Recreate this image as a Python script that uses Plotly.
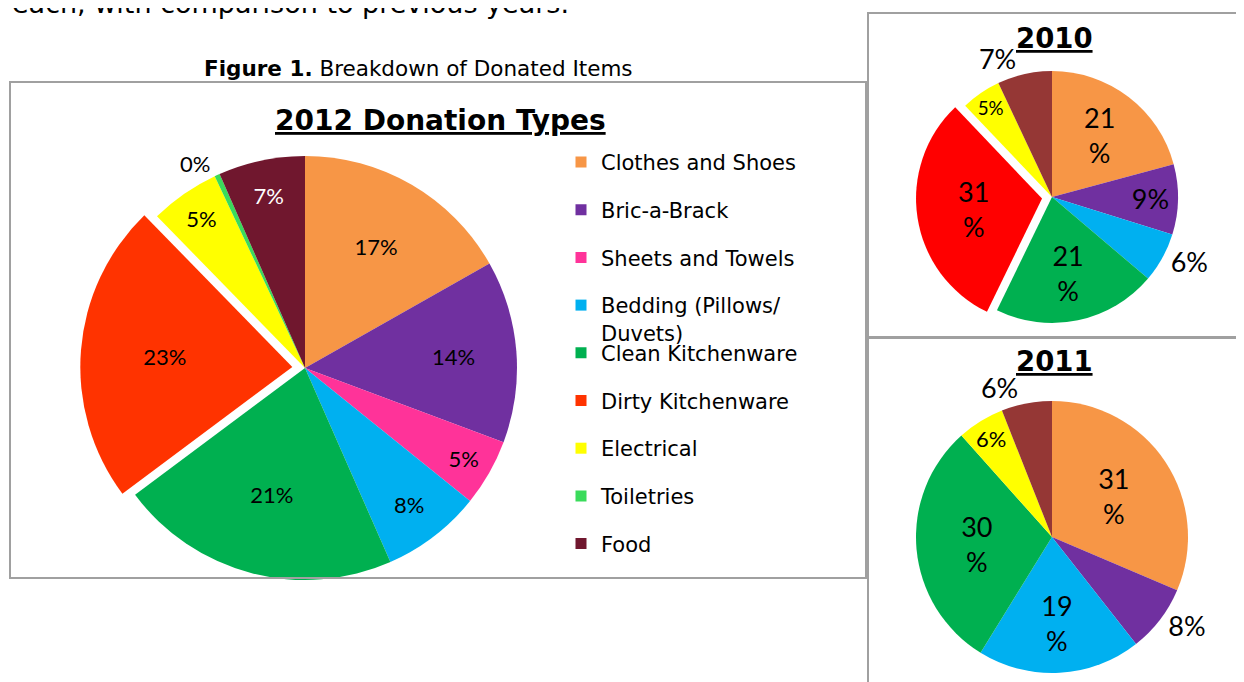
import plotly.graph_objects as go

W, H = 1244, 682
OFF = 8  # page body margin in the browser

# ---------------- data ----------------
categories = ["Clothes and Shoes", "Bric-a-Brack", "Sheets and Towels",
              "Bedding (Pillows/<br>Duvets)", "Clean Kitchenware",
              "Dirty Kitchenware", "Electrical", "Toiletries", "Food"]

values_2012 = [16.8, 13.9, 5.1, 7.6, 21.4, 22.9, 5.3, 0.4, 6.6]
values_2010 = [20.8, 9.0, 0, 6.4, 21.0, 30.7, 5.1, 0, 7.0]
values_2011 = [31.4, 8.0, 0, 19.4, 29.6, 0, 5.6, 0, 6.0]

colors_2012 = ["#F79646", "#7030A0", "#FF3399", "#00B0F0", "#00B050",
               "#FF3300", "#FFFF00", "#3ADB5B", "#70172E"]
colors_prev = ["#F79646", "#7030A0", "#FF3399", "#00B0F0", "#00B050",
               "#FF0000", "#FFFF00", "#3ADB5B", "#953735"]

pos_2012 = ["inside"] * 7 + ["outside", "inside"]
pos_2010 = ["inside", "inside", "inside", "outside", "inside", "inside", "inside", "inside", "outside"]
pos_2011 = ["inside", "outside", "inside", "inside", "inside", "inside", "inside", "inside", "outside"]

txtcol_2012 = ["black"] * 8 + ["white"]
pull_2012 = [0, 0, 0, 0, 0, 0.06, 0, 0, 0]
pull_2010 = [0, 0, 0, 0, 0, 0.08, 0, 0, 0]

caption = "<b>Figure 1.</b> Breakdown of Donated Items"
intro_text = "each, with comparison to previous years."
title_2012 = "2012 Donation Types"
title_2010 = "2010"
title_2011 = "2011"


# ---------------- helpers ----------------
def fx(x):
    return (x - OFF) / W


def fy(y):
    return 1 - (y - OFF) / H


def domain(cx, cy, r, maxpull):
    h = r * (1 + maxpull)
    return dict(x=[fx(cx - h), fx(cx + h)], y=[fy(cy + h), fy(cy - h)])


def keep(vals, *lists):
    idx = [i for i, v in enumerate(vals) if v > 0]
    return [[lst[i] for i in idx] for lst in (vals,) + lists]


fig = go.Figure()

# 2012 pie
fig.add_trace(go.Pie(
    labels=categories, values=values_2012, sort=False, direction="clockwise",
    rotation=0, marker=dict(colors=colors_2012, line=dict(width=0)),
    pull=pull_2012, textposition=pos_2012, texttemplate="%{percent:.0%}",
    insidetextorientation="horizontal",
    textfont=dict(family="Lato", size=22, color=txtcol_2012),
    outsidetextfont=dict(family="Lato", size=22, color="black"),
    domain=domain(305, 368, 212, max(pull_2012)), showlegend=False,
    hoverinfo="label+percent",
))

# 2010 pie
v, lab, col, pos, pl = keep(values_2010, categories, colors_prev, pos_2010, pull_2010)
tmpl = ["%{value:.0f}<br>%" if (p == "inside" and x >= 10) else "%{value:.0f}%" for x, p in zip(v, pos)]
fig.add_trace(go.Pie(
    labels=lab, values=v, sort=False, direction="clockwise", rotation=0,
    marker=dict(colors=col, line=dict(width=0)), pull=pl, textposition=pos,
    texttemplate=tmpl, insidetextorientation="horizontal",
    textfont=dict(family="Lato", size=27, color="black"),
    domain=domain(1052, 197, 126, max(pl)), showlegend=False,
    hoverinfo="label+percent",
))

# 2011 pie
v, lab, col, pos = keep(values_2011, categories, colors_prev, pos_2011)
tmpl = ["%{value:.0f}<br>%" if (p == "inside" and x >= 10) else "%{value:.0f}%" for x, p in zip(v, pos)]
fig.add_trace(go.Pie(
    labels=lab, values=v, sort=False, direction="clockwise", rotation=0,
    marker=dict(colors=col, line=dict(width=0)), textposition=pos,
    texttemplate=tmpl, insidetextorientation="horizontal",
    textfont=dict(family="Lato", size=27, color="black"),
    domain=domain(1052, 537, 136, 0), showlegend=False,
    hoverinfo="label+percent",
))

# legend entries (one legend per entry for Excel-like spacing)
LEG_FS = 21
first_sym_y = 162
step = 47.7
text_x = 601
legend_layouts = {}
for i, (name, c) in enumerate(zip(categories, colors_2012)):
    key = "legend" if i == 0 else f"legend{i + 1}"
    fig.add_trace(go.Scatter(
        x=[None], y=[None], mode="markers", name=name,
        marker=dict(symbol="square", size=11, color=c),
        legend=key, showlegend=True, hoverinfo="skip",
    ))
    sym_y = first_sym_y + step * i
    top = sym_y - (5 + (1.3 * LEG_FS + 3) / 2)
    legend_layouts[key] = dict(
        x=fx(text_x - 40), xanchor="left", y=fy(top), yanchor="top",
        bgcolor="rgba(0,0,0,0)", borderwidth=0, valign="top",
        font=dict(family="DejaVu Sans", size=LEG_FS, color="black"),
        itemwidth=30, itemclick=False, itemdoubleclick=False,
    )

# boxes
box_line = dict(color="#A0A0A0", width=2)
shapes = [
    dict(type="rect", xref="paper", yref="paper", x0=fx(10), x1=fx(866), y0=fy(578), y1=fy(82), line=box_line),
    dict(type="rect", xref="paper", yref="paper", x0=fx(868), x1=fx(1270), y0=fy(337), y1=fy(13), line=box_line),
    dict(type="rect", xref="paper", yref="paper", x0=fx(868), x1=fx(1270), y0=fy(710), y1=fy(338), line=box_line),
]

annotations = [
    dict(text=intro_text, x=fx(10), y=fy(3), xanchor="left", yanchor="middle",
         font=dict(family="DejaVu Sans", size=27, color="black")),
    dict(text=caption, x=fx(418), y=fy(68), xanchor="center", yanchor="middle",
         font=dict(family="DejaVu Sans", size=21.5, color="black")),
    dict(text="<b><u>" + title_2012 + "</u></b>", x=fx(440), y=fy(121), xanchor="center", yanchor="middle",
         font=dict(family="DejaVu Sans", size=28, color="black")),
    dict(text="<b><u>" + title_2010 + "</u></b>", x=fx(1054), y=fy(38), xanchor="center", yanchor="middle",
         font=dict(family="DejaVu Sans", size=27.5, color="black")),
    dict(text="<b><u>" + title_2011 + "</u></b>", x=fx(1054), y=fy(361), xanchor="center", yanchor="middle",
         font=dict(family="DejaVu Sans", size=27.5, color="black")),
]
for a in annotations:
    a.update(xref="paper", yref="paper", showarrow=False)

fig.update_layout(
    width=W, height=H, margin=dict(l=0, r=0, t=0, b=0),
    paper_bgcolor="white", plot_bgcolor="white",
    xaxis=dict(visible=False), yaxis=dict(visible=False),
    shapes=shapes, annotations=annotations,
    **legend_layouts,
)

fig.write_html("out.html")
